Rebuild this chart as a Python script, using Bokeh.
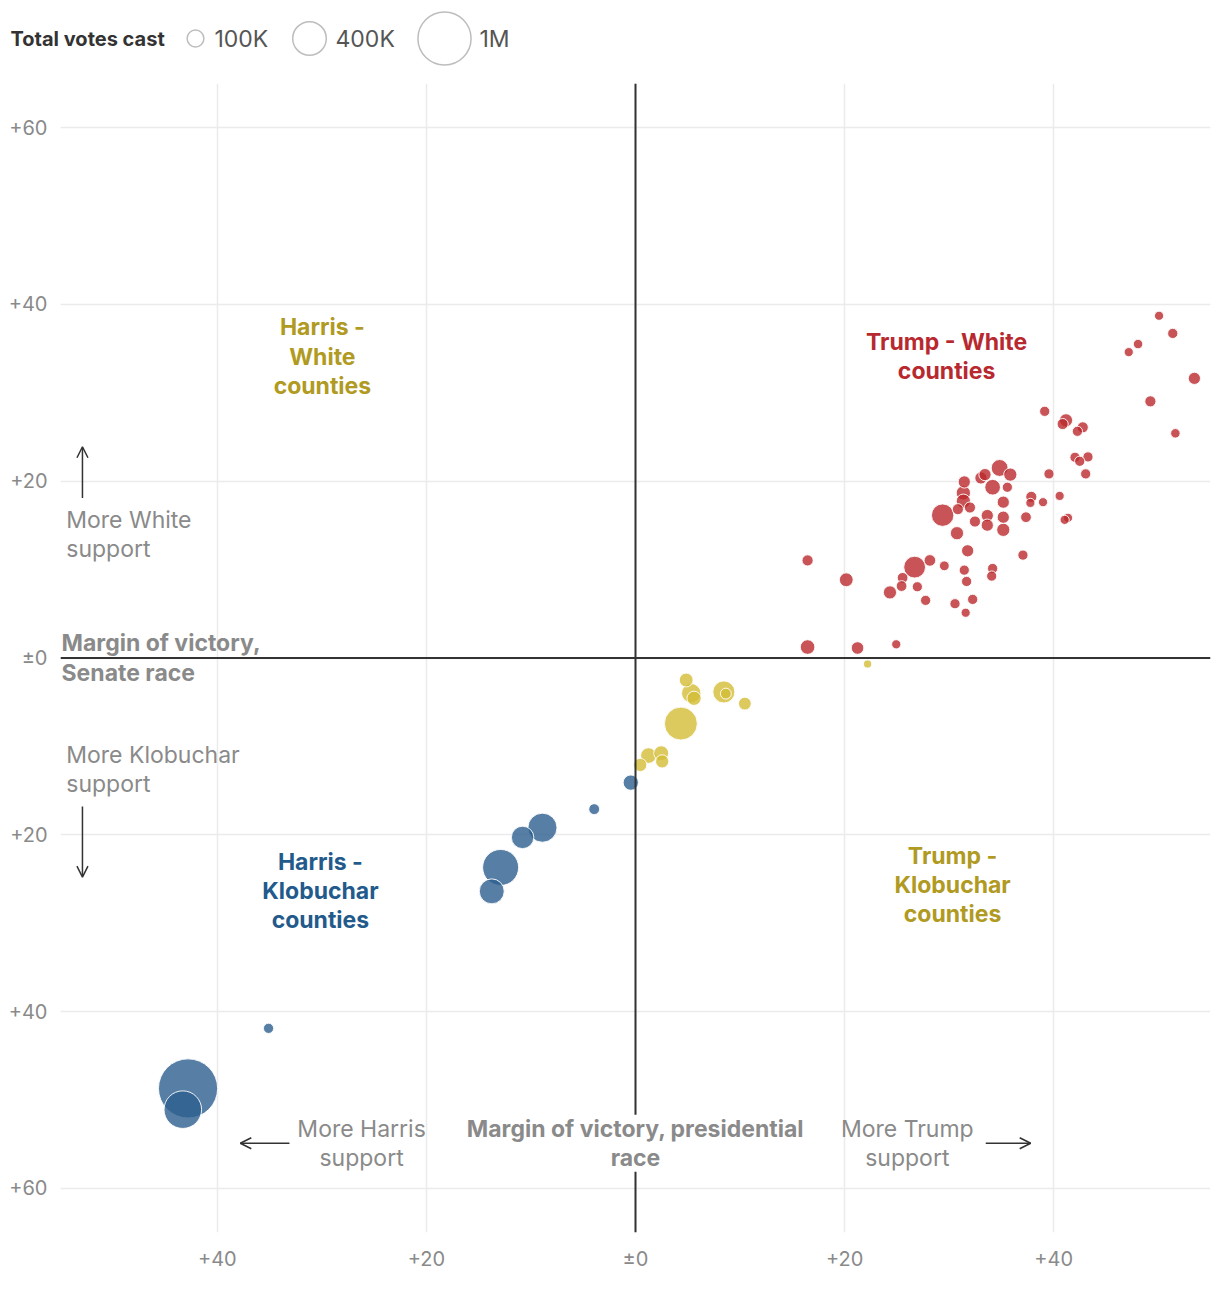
from bokeh.plotting import figure
from bokeh.models import Range1d, FixedTicker, Span, Label, Arrow, OpenHead, ColumnDataSource
from bokeh.layouts import column
from bokeh.core.properties import value
from bokeh.embed import file_html
from bokeh.resources import INLINE
import numpy as np

# ---------------- data ----------------
# x: presidential margin (negative = Harris, positive = Trump), points
# y: senate margin (negative = Klobuchar, positive = White), points
# votes: total votes cast, thousands
harris_klob_x = [-42.8, -43.3, -35.1, -12.9, -13.75, -10.8, -8.9, -3.95, -0.45]
harris_klob_y = [-48.7, -51.1, -41.9, -23.7, -26.4, -20.3, -19.2, -17.1, -14.1]
harris_klob_votes = [1240, 500, 37, 460, 220, 178, 300, 42, 83]

trump_klob_x = [4.34, 4.85, 5.33, 5.6, 8.45, 8.64, 10.46, 1.24, 2.46, 2.55, 0.45, 22.2]
trump_klob_y = [-7.42, -2.49, -3.99, -4.56, -3.84, -4.03, -5.16, -11.04, -10.77, -11.7, -12.1, -0.68]
trump_klob_votes = [385, 68, 133, 72, 172, 42, 58, 87, 79, 62, 62, 24]

trump_white_x = [16.46, 20.16, 16.46, 21.24, 24.94, 26.7, 28.16, 29.54, 25.55, 25.45,
                 24.34, 26.96, 27.75, 31.45, 31.77, 31.67, 32.25, 30.56, 31.58, 34.16,
                 34.07, 37.06, 29.38, 30.75, 30.84, 31.99, 32.47, 33.65, 33.65, 35.18,
                 35.18, 35.18, 37.35, 37.86, 37.77, 38.98, 40.57, 39.55, 41.37, 41.05,
                 31.45, 31.36, 31.36, 33.04, 33.43, 34.83, 34.16, 35.85, 35.57,
                 50.08, 51.39, 48.07, 47.18, 53.46, 49.25, 51.64, 39.14, 41.18, 40.86,
                 42.78, 42.27, 42.04, 43.28, 42.49, 43.06]
trump_white_y = [11.04, 8.85, 1.24, 1.13, 1.55, 10.28, 11.04, 10.43, 9.07, 8.14,
                 7.42, 8.06, 6.52, 9.94, 12.13, 8.66, 6.63, 6.14, 5.12, 10.13,
                 9.27, 11.64, 16.16, 14.12, 16.84, 17.03, 15.44, 16.12, 15.03, 15.93,
                 14.5, 17.63, 15.93, 18.23, 17.55, 17.63, 18.34, 20.83, 15.86, 15.63,
                 19.92, 18.68, 17.74, 20.37, 20.75, 21.5, 19.32, 20.75, 19.32,
                 38.72, 36.72, 35.52, 34.61, 31.64, 29.04, 25.42, 27.91, 26.89, 26.47,
                 26.1, 25.65, 22.71, 22.75, 22.26, 20.83]
trump_white_votes = [44, 68, 76, 56, 30, 168, 48, 34, 41, 41,
                     62, 37, 37, 37, 53, 37, 37, 37, 30, 37,
                     37, 37, 178, 62, 44, 44, 44, 53, 53, 53,
                     62, 53, 41, 44, 30, 30, 30, 37, 30, 30,
                     53, 72, 72, 53, 53, 101, 87, 62, 37,
                     30, 37, 32, 30, 53, 44, 32, 37, 62, 44,
                     44, 37, 37, 37, 37, 37]

x_ticks = [-40, -20, 0, 20, 40]
x_tick_labels = ["+40", "+20", "±0", "+20", "+40"]
y_ticks = [-60, -40, -20, 0, 20, 40, 60]
y_tick_labels = ["+60", "+40", "+20", "±0", "+20", "+40", "+60"]

legend_votes = [100, 400, 1000]
legend_labels = ["100K", "400K", "1M"]

# ---------------- styles ----------------
FONT = "Inter"
RED = "#bb292d"
BLUE = "#2d5f8e"
YELLOW = "#d3bd36"
RED_TXT = "#b8292f"
BLUE_TXT = "#235a8c"
OLIVE_TXT = "#b09a22"
GRAY = "#8a8a8a"
DARK = "#333333"


def px_size(votes):
    # diameter in screen px; area proportional to votes
    return 2 * 8.4 * np.sqrt(np.asarray(votes, dtype=float) / 100.0)


# ---------------- legend strip ----------------
leg = figure(width=1212, height=83, x_range=Range1d(0, 1212), y_range=Range1d(83, 0),
             toolbar_location=None, output_backend="svg", min_border=0,
             x_axis_location=None, y_axis_location=None, title=None)
leg.frame_align = False
leg.grid.visible = False
leg.outline_line_color = None
leg.text(x=[10], y=[38], text=["Total votes cast"], text_font=value(FONT), text_font_size="20px",
         text_font_style="bold", text_color=DARK, text_align="left", text_baseline="middle")
leg.scatter(x=[195, 309, 444], y=[38, 38, 38], size=px_size(legend_votes),
            fill_color=None, line_color="#bdbdbd", line_width=1.5)
leg.text(x=[214, 335, 479], y=[38, 38, 38], text=legend_labels, text_font=value(FONT),
         text_font_size="23px", text_color="#555555", text_align="left", text_baseline="middle")

# ---------------- main chart ----------------
p = figure(width=1212, height=1192, x_range=Range1d(-55, 55), y_range=Range1d(-65, 65),
           toolbar_location=None, output_backend="svg", title=None,
           min_border_left=60, min_border_right=2, min_border_top=0, min_border_bottom=43)
p.frame_align = False
p.outline_line_color = None
p.background_fill_color = "white"

for ax, ticks, labels in ((p.xaxis, x_ticks, x_tick_labels), (p.yaxis, y_ticks, y_tick_labels)):
    ax.ticker = FixedTicker(ticks=ticks)
    ax.major_label_overrides = {t: l for t, l in zip(ticks, labels)}
    ax.axis_line_color = None
    ax.major_tick_line_color = None
    ax.minor_tick_line_color = None
    ax.major_tick_out = 0
    ax.major_tick_in = 0
    ax.major_label_text_font = FONT
    ax.major_label_text_font_size = "20px"
    ax.major_label_text_color = GRAY
p.xaxis.major_label_standoff = 14
p.yaxis.major_label_standoff = 13

p.grid.grid_line_color = "#ebebeb"
p.grid.grid_line_width = 1.5

# combine, draw biggest first
xs = harris_klob_x + trump_klob_x + trump_white_x
ys = harris_klob_y + trump_klob_y + trump_white_y
vs = harris_klob_votes + trump_klob_votes + trump_white_votes
cols = [BLUE] * len(harris_klob_x) + [YELLOW] * len(trump_klob_x) + [RED] * len(trump_white_x)
order = np.argsort(-np.asarray(vs), kind="stable")
src = ColumnDataSource(dict(
    x=[xs[i] for i in order], y=[ys[i] for i in order],
    size=px_size([vs[i] for i in order]), color=[cols[i] for i in order]))
p.scatter("x", "y", size="size", source=src, fill_color="color", fill_alpha=0.8,
          line_color="white", line_width=1, line_alpha=0.9)

# zero lines
p.add_layout(Span(location=0, dimension="width", line_color=DARK, line_width=2))
p.add_layout(Span(location=0, dimension="height", line_color=DARK, line_width=2))


def lab(x, y, text, color, bold=False, align="center", bg=None, size="23px"):
    kw = dict(x=x, y=y, text=text, text_font=FONT, text_font_size=size,
              text_font_style="bold" if bold else "normal", text_color=color,
              text_align=align, text_baseline="middle", text_line_height=1.04)
    if bg:
        kw["background_fill_color"] = bg
    p.add_layout(Label(**kw))


lab(-29.95, 34.1, "Harris -\nWhite\ncounties", OLIVE_TXT, bold=True)
lab(29.76, 34.1, "Trump - White\ncounties", RED_TXT, bold=True)
lab(-30.14, -26.4, "Harris -\nKlobuchar\ncounties", BLUE_TXT, bold=True)
lab(30.33, -25.65, "Trump -\nKlobuchar\ncounties", OLIVE_TXT, bold=True)

lab(-54.45, 14.0, "More White\nsupport", GRAY, align="left")
lab(-54.45, -12.66, "More Klobuchar\nsupport", GRAY, align="left")
lab(-54.9, 0.0, "Margin of victory,\nSenate race", GRAY, bold=True, align="left")
lab(-26.2, -54.9, "More Harris\nsupport", GRAY)
lab(0.0, -54.9, "Margin of victory, presidential\nrace", GRAY, bold=True, bg="white")
lab(26.0, -54.9, "More Trump\nsupport", GRAY)


def arrow(x0, y0, x1, y1):
    p.add_layout(Arrow(end=OpenHead(size=11, line_color=DARK, line_width=1.5),
                       x_start=x0, y_start=y0, x_end=x1, y_end=y1,
                       line_color=DARK, line_width=1.5))


arrow(-52.9, 18.1, -52.9, 23.9)
arrow(-52.9, -16.8, -52.9, -24.8)
arrow(-33.1, -54.9, -37.8, -54.9)
arrow(33.5, -54.9, 37.8, -54.9)

layout = column(leg, p, spacing=0)
open("out.html", "w").write(file_html(layout, INLINE))
